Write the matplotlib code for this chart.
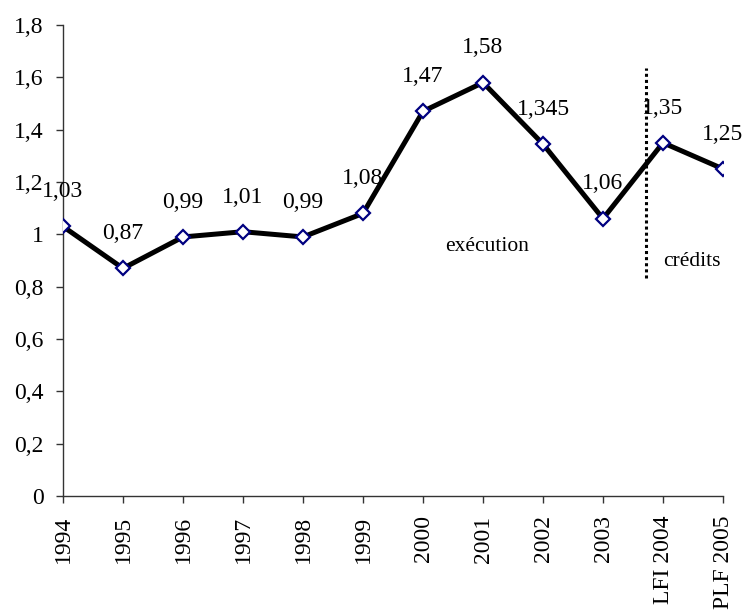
import matplotlib.pyplot as plt

plt.rcParams['font.family'] = ['Liberation Serif', 'DejaVu Serif']

# Ratio values per year (execution then credits)
years = ['1994', '1995', '1996', '1997', '1998', '1999', '2000', '2001',
         '2002', '2003', 'LFI 2004', 'PLF 2005']
values = [1.03, 0.87, 0.99, 1.01, 0.99, 1.08, 1.47, 1.58, 1.345, 1.06, 1.35, 1.25]
labels = ['1,03', '0,87', '0,99', '1,01', '0,99', '1,08', '1,47', '1,58',
          '1,345', '1,06', '1,35', '1,25']
y_ticks = [0, 0.2, 0.4, 0.6, 0.8, 1.0, 1.2, 1.4, 1.6, 1.8]

fig = plt.figure(figsize=(7.46, 6.14), dpi=100)
ax = fig.add_axes([63 / 746, 1 - 496 / 614, 660 / 746, 471 / 614])

x = list(range(len(years)))
ax.plot(x, values, color='black', linewidth=3.6, marker='D', markersize=7,
        markerfacecolor='white', markeredgecolor='#000080', markeredgewidth=1.6,
        zorder=3)

for xi, v, lab in zip(x, values, labels):
    ax.annotate(lab, (xi, v), xytext=(0, 21), textcoords='offset points',
                ha='center', va='baseline', fontsize=17)

# separation between executed budget and voted credits
ax.plot([9.72, 9.72], [0.835, 1.635], color='black', linewidth=2.2,
        linestyle=(0, (1, 1)), zorder=2)
ax.text(7.06, 0.955, 'exécution', fontsize=15.5, ha='center', va='center')
ax.text(10.48, 0.895, 'crédits', fontsize=15.5, ha='center', va='center')

ax.set_xlim(0, len(years) - 1)
ax.set_ylim(0, 1.8)
ax.set_xticks(x)
ax.set_xticklabels(years, rotation=90, fontsize=17)
ax.set_yticks(y_ticks)
ax.set_yticklabels([('%g' % t).replace('.', ',') for t in y_ticks], fontsize=17)
ax.tick_params(length=5, width=1, pad=9, color='#333333')

for side in ['top', 'right']:
    ax.spines[side].set_visible(False)
for side in ['left', 'bottom']:
    ax.spines[side].set_color('#333333')
    ax.spines[side].set_linewidth(1)

fig.savefig('out.png', dpi=100)
